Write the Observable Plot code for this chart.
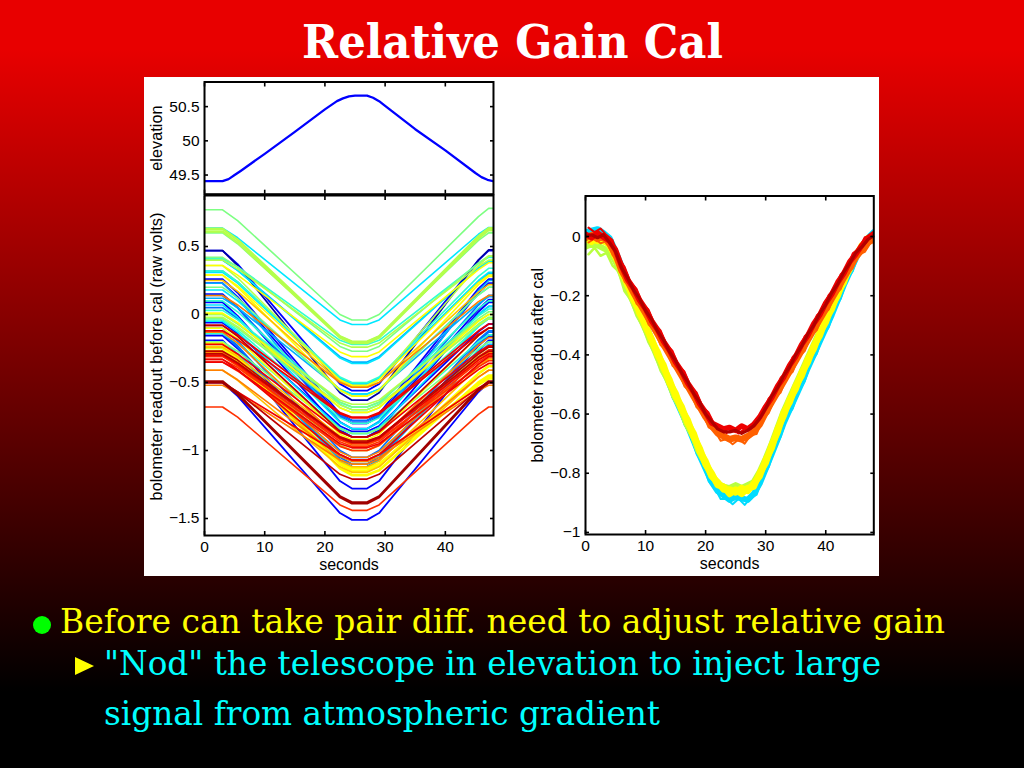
<!DOCTYPE html>
<html>
<head>
<meta charset="utf-8">
<script src="https://cdn.jsdelivr.net/npm/d3@7"></script>
<script src="https://cdn.jsdelivr.net/npm/@observablehq/plot@0.6"></script>
<style>
html,body{margin:0;padding:0;width:1024px;height:768px;overflow:hidden;background:#000}
#bg{position:absolute;left:0;top:0;width:1024px;height:768px;background:linear-gradient(to bottom,#e80000 0,#e80000 49px,#000 691px,#000 768px)}
#panel{position:absolute;left:144px;top:77px;width:735px;height:499px;background:#fff}
#slide{position:absolute;left:0;top:0}
.chart{position:absolute}
.chart svg{overflow:visible;background:transparent;display:block}
</style>
</head>
<body>
<div id="bg"></div>
<div id="panel"></div>
<svg id="slide" width="1024" height="768">
  <text x="302" y="58" textLength="421" lengthAdjust="spacingAndGlyphs" font-family="DejaVu Serif" font-weight="700" font-size="47" fill="#fff">Relative Gain Cal</text>
  <circle cx="42" cy="625" r="9" fill="#00ff00"/>
  <text x="60" y="633" textLength="885" lengthAdjust="spacingAndGlyphs" font-family="DejaVu Serif" font-size="33" fill="#ffff00">Before can take pair diff. need to adjust relative gain</text>
  <polygon points="75,657 94,666 75,675" fill="#ffff00"/>
  <text x="104" y="675" textLength="777" lengthAdjust="spacingAndGlyphs" font-family="DejaVu Serif" font-size="33" fill="#00ffff">"Nod" the telescope in elevation to inject large</text>
  <text x="104" y="725" textLength="556" lengthAdjust="spacingAndGlyphs" font-family="DejaVu Serif" font-size="33" fill="#00ffff">signal from atmospheric gradient</text>
</svg>
<div id="top" class="chart" style="left:144px;top:77px"></div>
<div id="main" class="chart" style="left:144px;top:190px"></div>
<div id="right" class="chart" style="left:520px;top:190px"></div>
<script>
// ---------- elevation panel ----------
const elevationSeconds = [0,3,4,5,6,10,15,20,22,23,24,25,27,28,29,30,35,40,45,46,47,48];
const elevationDegrees = [49.41,49.41,49.44,49.5,49.56,49.81,50.13,50.46,50.58,50.62,50.65,50.66,50.66,50.63,50.58,50.51,50.17,49.86,49.53,49.47,49.43,49.41];

// ---------- readout before calibration: one row per bolometer ----------
const beforeSeconds = [0,3,5.5,22.5,24.5,27,29,45.5,47.2];
const lastSecond = 48;
const navyLines = [[.47,.47,.36,-.575,-.63,-.63,-.575,.40,.475]];
const blueLines = [
 [.47,.47,.37,-.51,-.56,-.56,-.51,.40,.47],
 [.26,.26,.16,-.73,-.78,-.78,-.73,.19,.26],
 [.23,.23,.13,-.75,-.80,-.80,-.75,.16,.23],
 [.15,.15,.05,-.79,-.84,-.84,-.79,.04,.11],
 [.09,.09,-.01,-.85,-.90,-.90,-.85,.02,.09],
 [-.155,-.155,-.25,-1.07,-1.12,-1.12,-1.07,-.23,-.16],
 [-.19,-.19,-.30,-1.225,-1.28,-1.28,-1.225,-.27,-.19],
 [-.5,-.5,-.60,-1.46,-1.51,-1.51,-1.46,-.57,-.5],
 [-.06,-.06,-.14,-.82,-.86,-.86,-.82,-.125,-.07]];
const azureLines = [
 [.14,.14,.05,-.75,-.80,-.80,-.75,.07,.14],
 [.05,.05,-.03,-.74,-.78,-.78,-.74,0,.06],
 [-.14,-.14,-.24,-1.05,-1.10,-1.10,-1.05,-.22,-.15],
 [-.10,-.10,-.195,-1.0,-1.05,-1.05,-1.0,-.185,-.12],
 [-.13,-.13,-.23,-1.07,-1.12,-1.12,-1.07,-.20,-.13]];
const skyLines = [
 [.32,.32,.24,-.47,-.51,-.51,-.47,.24,.30],
 [.40,.40,.325,-.31,-.35,-.35,-.31,.34,.39],
 [.12,.12,.05,-.55,-.585,-.585,-.55,.08,.13],
 [.23,.23,.12,-.79,-.84,-.84,-.785,.175,.25],
 [-.2,-.2,-.29,-1.07,-1.12,-1.12,-1.07,-.28,-.22]];
const cyanLines = [
 [.635,.635,.564,-.04,-.074,-.074,-.04,.59,.64],
 [.40,.40,.324,-.32,-.36,-.36,-.32,.34,.39],
 [.31,.31,.23,-.47,-.51,-.51,-.47,.25,.31],
 [.18,.18,.10,-.55,-.585,-.585,-.55,.145,.20],
 [.07,.07,-.02,-.795,-.84,-.84,-.795,0,.06],
 [-.05,-.05,-.13,-.835,-.875,-.875,-.83,-.09,-.03],
 [-.2,-.2,-.29,-1.035,-1.08,-1.08,-1.035,-.26,-.2]];
const tealLines = [
 [.41,.41,.35,-.19,-.22,-.22,-.19,.375,.42],
 [.32,.32,.24,-.46,-.50,-.50,-.46,.28,.34],
 [.10,.10,.02,-.66,-.70,-.70,-.66,.045,.10],
 [.03,.03,-.04,-.645,-.68,-.68,-.645,-.01,.04],
 [-.04,-.04,-.115,-.76,-.80,-.80,-.76,-.085,-.03],
 [-.14,-.14,-.21,-.84,-.875,-.875,-.84,-.20,-.15]];
const greenLines = [
 [.77,.77,.69,0,-.04,-.04,0,.72,.78],
 [.60,.60,.52,-.16,-.20,-.20,-.16,.545,.60],
 [.42,.42,.35,-.235,-.27,-.27,-.235,.38,.43],
 [.20,.20,.12,-.56,-.60,-.60,-.56,.145,.20],
 [0,0,-.07,-.645,-.68,-.68,-.645,-.03,.02],
 [-.03,-.03,-.10,-.685,-.72,-.72,-.685,-.07,-.02],
 [-.2,-.2,-.27,-.84,-.875,-.875,-.84,-.25,-.2]];
const limeLines = [
 [.40,.40,.335,-.21,-.24,-.24,-.21,.355,.40],
 [.36,.36,.27,-.485,-.53,-.53,-.48,.36,.43],
 [0,0,-.065,-.63,-.66,-.66,-.63,-.045,0],
 [-.02,-.02,-.09,-.665,-.70,-.70,-.665,-.08,-.03],
 [-.25,-.25,-.325,-.96,-1.0,-1.0,-.96,-.295,-.24]];
const limeNoisyLines = [
 [.63,.63,.55,-.16,-.20,-.20,-.16,.575,.635],
 [.61,.61,.53,-.17,-.21,-.21,-.17,.56,.62]];
const yellowLines = [
 [.36,.36,.29,-.275,-.31,-.31,-.275,.33,.38],
 [.29,.29,.21,-.48,-.52,-.52,-.48,.235,.29],
 [.29,.29,.20,-.555,-.60,-.60,-.555,.22,.28],
 [.01,.01,-.06,-.685,-.72,-.72,-.685,-.05,0],
 [-.10,-.10,-.18,-.88,-.92,-.92,-.88,-.155,-.10]];
const yellowNoisyLines = [
 [-.215,-.215,-.31,-1.10,-1.15,-1.15,-1.11,-.435,-.38],
 [-.24,-.24,-.335,-1.13,-1.18,-1.18,-1.145,-.50,-.45],
 [-.27,-.27,-.355,-1.09,-1.13,-1.13,-1.10,-.515,-.47]];
const goldLines = [
 [.25,.25,.17,-.495,-.535,-.535,-.50,.165,.22],
 [-.24,-.24,-.31,-.895,-.93,-.93,-.90,-.325,-.28],
 [-.41,-.41,-.485,-1.12,-1.16,-1.16,-1.12,-.46,-.41],
 [-.30,-.30,-.38,-1.08,-1.12,-1.12,-1.08,-.385,-.33]];
const orangeLines = [
 [.14,.14,.07,-.50,-.535,-.535,-.50,.095,.14],
 [-.13,-.13,-.21,-.92,-.96,-.96,-.92,-.225,-.17],
 [-.277,-.277,-.355,-1.01,-1.05,-1.05,-1.01,-.33,-.28],
 [-.30,-.30,-.37,-.965,-1.0,-1.0,-.965,-.37,-.32],
 [-.52,-.52,-.58,-1.07,-1.10,-1.10,-1.065,-.46,-.41],
 [-.41,-.41,-.48,-1.045,-1.08,-1.08,-1.05,-.56,-.52]];
const vermilionLines = [
 [-.31,-.31,-.375,-.935,-.97,-.97,-.935,-.35,-.30],
 [-.33,-.33,-.39,-.92,-.95,-.95,-.92,-.385,-.34],
 [-.35,-.35,-.415,-.97,-1.0,-1.0,-.96,-.31,-.26],
 [-.68,-.68,-.755,-1.40,-1.44,-1.44,-1.40,-.735,-.68]];
const redLines = [
 [-.08,-.08,-.15,-.72,-.755,-.755,-.72,-.12,-.07],
 [-.12,-.12,-.185,-.73,-.76,-.76,-.73,-.145,-.10],
 [-.22,-.22,-.29,-.865,-.90,-.90,-.865,-.275,-.23],
 [-.30,-.30,-.365,-.91,-.94,-.94,-.91,-.335,-.29],
 [-.33,-.33,-.405,-1.03,-1.07,-1.07,-1.03,-.365,-.31],
 [-.35,-.35,-.41,-.95,-.98,-.98,-.95,-.405,-.36],
 [-.5,-.5,-.57,-1.03,-1.07,-1.07,-1.03,-.54,-.5]];
const darkRedLines = [
 [-.08,-.08,-.16,-.86,-.90,-.90,-.86,-.155,-.10],
 [-.27,-.27,-.335,-.905,-.94,-.94,-.905,-.29,-.24],
 [-.29,-.29,-.355,-.90,-.93,-.93,-.90,-.315,-.27],
 [-.50,-.50,-.57,-1.175,-1.21,-1.21,-1.175,-.55,-.50]];
const maroonLines = [
 [-.50,-.50,-.59,-1.345,-1.39,-1.39,-1.345,-.56,-.50],
 [-.49,-.49,-.58,-1.335,-1.38,-1.38,-1.335,-.55,-.49]];

const beforeGroups = [
 {rows:blueLines,color:"#0000ff",width:1.8},{rows:navyLines,color:"#0000a8",width:1.8},
 {rows:azureLines,color:"#0070ff",width:1.8},{rows:skyLines,color:"#00b0ff",width:1.6},
 {rows:cyanLines,color:"#00e8ff",width:1.6},{rows:tealLines,color:"#30ffd0",width:1.6},
 {rows:greenLines,color:"#7dff82",width:1.6},{rows:limeLines,color:"#b4ff4b",width:1.6},
 {rows:limeNoisyLines,color:"#b4ff4b",width:2.4},{rows:yellowLines,color:"#ffff00",width:1.6},
 {rows:yellowNoisyLines,color:"#ffff00",width:2.8},{rows:goldLines,color:"#ffc000",width:1.6},
 {rows:orangeLines,color:"#ff8000",width:1.6},{rows:vermilionLines,color:"#ff3000",width:1.6},
 {rows:redLines,color:"#f00000",width:1.7},{rows:darkRedLines,color:"#c00000",width:1.7},
 {rows:maroonLines,color:"#a00000",width:2}];

// ---------- readout after calibration: one value per second ----------
const cyanAfter = [.015,.02,.025,.012,-.005,-.05,-.1,-.15,-.2,-.25,-.295,-.35,-.4,-.445,-.5,-.55,-.595,-.64,-.69,-.74,-.785,-.83,-.86,-.875,-.89,-.88,-.885,-.89,-.87,-.835,-.785,-.735,-.685,-.63,-.585,-.54,-.495,-.445,-.4,-.355,-.31,-.265,-.215,-.165,-.12,-.075,-.035,-.005,.015];
const limeAfter = [-.035,-.025,-.03,-.04,-.05,-.085,-.13,-.18,-.225,-.27,-.315,-.36,-.41,-.455,-.5,-.545,-.59,-.64,-.68,-.73,-.77,-.81,-.835,-.845,-.85,-.84,-.85,-.84,-.83,-.795,-.75,-.70,-.645,-.59,-.545,-.5,-.455,-.41,-.365,-.32,-.275,-.23,-.19,-.14,-.1,-.06,-.035,-.015,-.01];
const yellowAfterA = [-.012,-.006,-.015,-.008,-.03,-.07,-.112,-.165,-.205,-.26,-.298,-.352,-.39,-.445,-.485,-.54,-.575,-.63,-.665,-.725,-.76,-.81,-.83,-.855,-.855,-.865,-.85,-.86,-.835,-.81,-.755,-.715,-.65,-.605,-.55,-.515,-.46,-.425,-.37,-.335,-.28,-.245,-.19,-.155,-.1,-.07,-.03,-.015,.002];
const yellowAfterB = [-.005,-.018,0,-.016,-.025,-.06,-.12,-.16,-.215,-.25,-.305,-.345,-.4,-.435,-.495,-.53,-.585,-.62,-.675,-.715,-.77,-.8,-.84,-.845,-.87,-.855,-.87,-.85,-.845,-.8,-.765,-.705,-.66,-.595,-.56,-.505,-.47,-.415,-.38,-.325,-.29,-.235,-.2,-.145,-.11,-.06,-.04,-.005,-.005];
const orangeAfter = [-.005,.005,-.008,.002,-.025,-.06,-.115,-.15,-.19,-.225,-.26,-.295,-.33,-.365,-.4,-.435,-.47,-.505,-.54,-.575,-.61,-.64,-.665,-.675,-.685,-.68,-.685,-.675,-.66,-.635,-.595,-.56,-.525,-.49,-.455,-.42,-.385,-.35,-.315,-.28,-.245,-.21,-.175,-.14,-.105,-.07,-.045,-.02,-.01];
const redAfter = [.008,-.004,.012,-.002,-.015,-.045,-.1,-.145,-.175,-.215,-.245,-.285,-.315,-.355,-.385,-.425,-.455,-.495,-.525,-.565,-.595,-.63,-.64,-.65,-.645,-.655,-.64,-.65,-.635,-.61,-.575,-.545,-.505,-.475,-.435,-.405,-.365,-.335,-.295,-.265,-.225,-.195,-.155,-.125,-.085,-.06,-.03,-.005,.01];
const darkRedAfter = [0,.006,-.004,.006,-.02,-.05,-.105,-.14,-.18,-.21,-.25,-.28,-.32,-.35,-.39,-.42,-.46,-.49,-.53,-.56,-.60,-.625,-.65,-.66,-.66,-.655,-.665,-.655,-.64,-.615,-.58,-.54,-.51,-.47,-.44,-.40,-.37,-.33,-.30,-.26,-.23,-.19,-.16,-.12,-.09,-.055,-.035,-.01,.003];

// noisy band edges, read half a second later than the rows above
const cyanEdge = [-.002,.018,-.002,0,-.047,-.079,-.145,-.179,-.245,-.276,-.342,-.379,-.442,-.476,-.545,-.576,-.637,-.669,-.735,-.766,-.827,-.849,-.887,-.886,-.905,-.886,-.907,-.884,-.872,-.814,-.78,-.714,-.677,-.611,-.582,-.521,-.49,-.426,-.397,-.336,-.307,-.244,-.21,-.146,-.117,-.059,-.04,.001];
const limeEdge = [-.06,-.038,-.065,-.055,-.098,-.118,-.185,-.213,-.268,-.303,-.358,-.395,-.453,-.488,-.543,-.578,-.635,-.67,-.725,-.76,-.80,-.833,-.845,-.853,-.85,-.85,-.85,-.84,-.818,-.778,-.73,-.678,-.623,-.573,-.528,-.483,-.438,-.393,-.348,-.303,-.258,-.215,-.17,-.125,-.09,-.058,-.035,-.022];
const orangeEdge = [-.02,-.006,-.023,-.015,-.062,-.09,-.152,-.174,-.227,-.246,-.297,-.316,-.367,-.386,-.437,-.456,-.507,-.526,-.577,-.596,-.645,-.656,-.69,-.684,-.702,-.686,-.70,-.671,-.667,-.619,-.597,-.546,-.527,-.476,-.457,-.406,-.387,-.336,-.317,-.266,-.247,-.196,-.177,-.126,-.107,-.061,-.052,-.02];
const redEdge = [.03,.015,.027,.005,-.012,-.071,-.102,-.154,-.177,-.226,-.247,-.296,-.317,-.366,-.387,-.436,-.457,-.506,-.527,-.576,-.595,-.636,-.64,-.664,-.652,-.666,-.65,-.651,-.617,-.599,-.547,-.526,-.477,-.456,-.407,-.386,-.337,-.316,-.267,-.246,-.197,-.176,-.127,-.106,-.057,-.041,-.002,.001];

const afterGroups = [
 {values:cyanAfter,color:"#00dcff",width:6,start:0},{values:cyanEdge,color:"#00dcff",width:2,start:.5},
 {values:limeAfter,color:"#b8ff40",width:6,start:0},{values:limeEdge,color:"#b8ff40",width:2.5,start:.5},
 {values:yellowAfterA,color:"#ffff00",width:6.5,start:0},{values:yellowAfterB,color:"#ffff00",width:6.5,start:0},
 {values:orangeAfter,color:"#ff6000",width:6.5,start:0},{values:orangeEdge,color:"#ff6000",width:2,start:.5},
 {values:redAfter,color:"#ee0000",width:5.5,start:0},{values:redEdge,color:"#ee0000",width:2,start:.5},
 {values:darkRedAfter,color:"#b00000",width:3.2,start:0}];

// ---------- tick lists ----------
const secondTicks = [0,10,20,30,40];
const elevationTicks = [49.5,50,50.5];
const beforeTicks = [-1.5,-1,-.5,0,.5];
const afterTicks = [-1,-.8,-.6,-.4,-.2,0];

const fmt = d => String(d).replace("-","\u2212");
const FONT = "Liberation Sans";
const blank = () => "";

function frameAxes(xTicks, yTicks, showX, yLabel, labelDy) {
  const inward = 4;
  const marks = [];
  marks.push(Plot.axisX(xTicks,{anchor:"bottom",tickSize:-inward,tickFormat:blank,label:null,strokeWidth:1.6}));
  marks.push(Plot.axisX(xTicks,{anchor:"top",tickSize:-inward,tickFormat:blank,label:null,strokeWidth:1.6}));
  marks.push(Plot.axisY(yTicks,{anchor:"right",tickSize:-inward,tickFormat:blank,label:null,strokeWidth:1.6}));
  marks.push(Plot.axisY(yTicks,{anchor:"left",tickSize:-inward,tickFormat:blank,label:null,strokeWidth:1.6}));
  if (showX) {
    marks.push(Plot.axisX(xTicks,{anchor:"bottom",tickSize:0,tickPadding:5,tickFormat:fmt,label:null,fontSize:15.5,fill:"#000"}));
    marks.push(Plot.text(["seconds"],{frameAnchor:"bottom",lineAnchor:"middle",dy:29,fontSize:16,fill:"#000"}));
  }
  marks.push(Plot.axisY(yTicks,{anchor:"left",tickSize:0,tickPadding:5,tickFormat:fmt,label:null,fontSize:15.5,fill:"#000"}));
  marks.push(Plot.text([yLabel],{frameAnchor:"left",textAnchor:"middle",rotate:-90,dx:-48,dy:labelDy,fontSize:16.3,fill:"#000"}));
  marks.push(Plot.frame({stroke:"#000",strokeWidth:2}));
  return marks;
}

const baseStyle = {fontFamily:FONT,fontSize:"15.5px",background:"transparent",color:"#000",overflow:"visible"};

// top panel
document.getElementById("top").append(Plot.plot({
  width:360,height:117.7,marginLeft:60,marginRight:11,marginTop:4.5,marginBottom:1,style:baseStyle,
  x:{domain:[0,48]},y:{domain:[49.22,50.86]},
  marks:[
    Plot.line(elevationSeconds.map((t,i)=>({t,v:elevationDegrees[i]})),{x:"t",y:"v",stroke:"#0000ff",strokeWidth:2.3,clip:true}),
    ...frameAxes(secondTicks,elevationTicks,false,"elevation",0)
  ]
}));

// main panel: each row holds level until the last second
const beforeMarks = beforeGroups.flatMap(g=>g.rows.map(r=>
  Plot.line([...r.map((v,i)=>({t:beforeSeconds[i],v})),{t:lastSecond,v:r[r.length-1]}],{x:"t",y:"v",stroke:g.color,strokeWidth:g.width,clip:true})));
document.getElementById("main").append(Plot.plot({
  width:360,height:386,marginLeft:60,marginRight:11,marginTop:5,marginBottom:41,style:baseStyle,
  x:{domain:[0,48]},y:{domain:[-1.625,.875]},
  marks:[...beforeMarks,...frameAxes(secondTicks,beforeTicks,true,"bolometer readout before cal (raw volts)",-9)]
}));

// right panel
const afterMarks = afterGroups.map(g=>
  Plot.line(g.values.map((v,i)=>({t:g.start+i,v})),{x:"t",y:"v",stroke:g.color,strokeWidth:g.width,clip:true}));
document.getElementById("right").append(Plot.plot({
  width:359,height:386,marginLeft:65,marginRight:5.7,marginTop:5.5,marginBottom:42,style:baseStyle,
  x:{domain:[0,48]},y:{domain:[-1.007,.137]},
  marks:[...afterMarks,...frameAxes(secondTicks,afterTicks,true,"bolometer readout after cal",0)]
}));
</script>
</body>
</html>
